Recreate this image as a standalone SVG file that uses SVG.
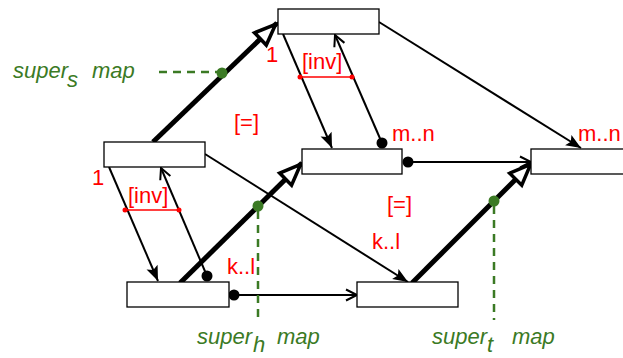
<svg xmlns="http://www.w3.org/2000/svg" width="623" height="358" viewBox="0 0 623 358">
<style>
.box{fill:#fff;stroke:#000;stroke-width:1.3}
.thin{stroke:#000;stroke-width:2;fill:none}
.thick{stroke:#000;stroke-width:5;fill:none;marker-end:url(#hollow)}
.red{fill:#ff0000;font-family:"Liberation Sans",Arial,sans-serif;font-size:22px}
.grn{fill:#3b7a24;font-family:"Liberation Sans",Arial,sans-serif;font-size:22px;font-style:italic}
.gdash{stroke:#3b7a24;stroke-width:2.5;stroke-dasharray:8 6;fill:none}
.rline{stroke:#ff0000;stroke-width:1.5}
</style>
<defs>
<marker id="hollow" markerUnits="userSpaceOnUse" markerWidth="40" markerHeight="40" refX="2" refY="0" orient="auto" viewBox="-30 -20 40 40" overflow="visible">
<path d="M0,0 L-21,-8.5 L-21,8.5 Z" fill="#fff" stroke="#000" stroke-width="3.5" stroke-linejoin="miter"/>
</marker>
<marker id="fill" markerUnits="userSpaceOnUse" markerWidth="30" markerHeight="30" refX="0" refY="0" orient="auto" viewBox="-20 -15 30 30" overflow="visible">
<path d="M0,0 L-15,-6 L-12,0 L-15,6 Z" fill="#000"/>
</marker>
<marker id="open" markerUnits="userSpaceOnUse" markerWidth="30" markerHeight="30" refX="0" refY="0" orient="auto" viewBox="-20 -15 30 30" overflow="visible">
<path d="M-11,-5.5 L0,0 L-11,5.5" fill="none" stroke="#000" stroke-width="2"/>
</marker>
</defs>
<g id="connectors">
<line class="thick" x1="153" y1="142" x2="277" y2="23"/>
<line class="thick" x1="180" y1="283" x2="302" y2="163"/>
<line class="thick" x1="412" y1="283" x2="532" y2="163"/>
<line class="thin" x1="109" y1="167" x2="158" y2="281" marker-end="url(#fill)"/>
<line class="thin" x1="207" y1="276" x2="161" y2="168" marker-end="url(#open)"/>
<circle cx="207" cy="276" r="5.5" fill="#000"/>
<line class="thin" x1="283" y1="34" x2="332" y2="148" marker-end="url(#fill)"/>
<line class="thin" x1="382" y1="143" x2="335" y2="35" marker-end="url(#open)"/>
<circle cx="382" cy="143" r="5.5" fill="#000"/>
<line class="thin" x1="379" y1="22" x2="581" y2="148" marker-end="url(#fill)"/>
<line class="thin" x1="408" y1="162" x2="531" y2="162" marker-end="url(#open)"/>
<circle cx="408" cy="162" r="5.5" fill="#000"/>
<line class="thin" x1="205" y1="154" x2="408" y2="282" marker-end="url(#fill)"/>
<line class="thin" x1="234" y1="295" x2="357" y2="295" marker-end="url(#open)"/>
<circle cx="234" cy="295" r="5.5" fill="#000"/>
</g>
<g id="node-top"><rect class="box" x="278" y="9" width="101" height="25"/></g>
<g id="node-left"><rect class="box" x="104" y="142" width="101" height="25"/></g>
<g id="node-mid"><rect class="box" x="302" y="149" width="100" height="25"/></g>
<g id="node-right"><rect class="box" x="531" y="149" width="100" height="25"/></g>
<g id="node-botleft"><rect class="box" x="127" y="282" width="102" height="25"/></g>
<g id="node-botmid"><rect class="box" x="357" y="282" width="101" height="25"/></g>
<g id="inv-top">
<line class="rline" x1="300" y1="77" x2="352" y2="77"/>
<circle cx="300" cy="77" r="2.5" fill="#ff0000"/>
<circle cx="352" cy="77" r="2.5" fill="#ff0000"/>
<text class="red" x="302" y="69">[inv]</text>
</g>
<g id="inv-left">
<line class="rline" x1="125" y1="210" x2="179" y2="210"/>
<circle cx="125" cy="210" r="2.5" fill="#ff0000"/>
<circle cx="179" cy="210" r="2.5" fill="#ff0000"/>
<text class="red" x="128" y="203">[inv]</text>
</g>
<g id="labels">
<text class="red" x="266" y="62">1</text>
<text class="red" x="92" y="185">1</text>
<text class="red" x="234" y="130">[=]</text>
<text class="red" x="387" y="212">[=]</text>
<text class="red" x="392" y="141">m..n</text>
<text class="red" x="578" y="141">m..n</text>
<text class="red" x="227" y="274">k..l</text>
<text class="red" x="372" y="249">k..l</text>
</g>
<g id="super-s">
<line class="gdash" x1="159" y1="72" x2="217" y2="72"/>
<circle cx="222" cy="73" r="5.5" fill="#3b7a24"/>
<text class="grn" x="13" y="78">super</text>
<text class="grn" x="67" y="87">s</text>
<text class="grn" x="92" y="78">map</text>
</g>
<g id="super-h">
<line class="gdash" x1="258" y1="211" x2="258" y2="320"/>
<circle cx="258" cy="206" r="5.5" fill="#3b7a24"/>
<text class="grn" x="197" y="344">super</text>
<text class="grn" x="253" y="352">h</text>
<text class="grn" x="277" y="344">map</text>
</g>
<g id="super-t">
<line class="gdash" x1="494" y1="206" x2="494" y2="320"/>
<circle cx="494" cy="201" r="5.5" fill="#3b7a24"/>
<text class="grn" x="432" y="344">super</text>
<text class="grn" x="487" y="352">t</text>
<text class="grn" x="512" y="344">map</text>
</g>
</svg>
